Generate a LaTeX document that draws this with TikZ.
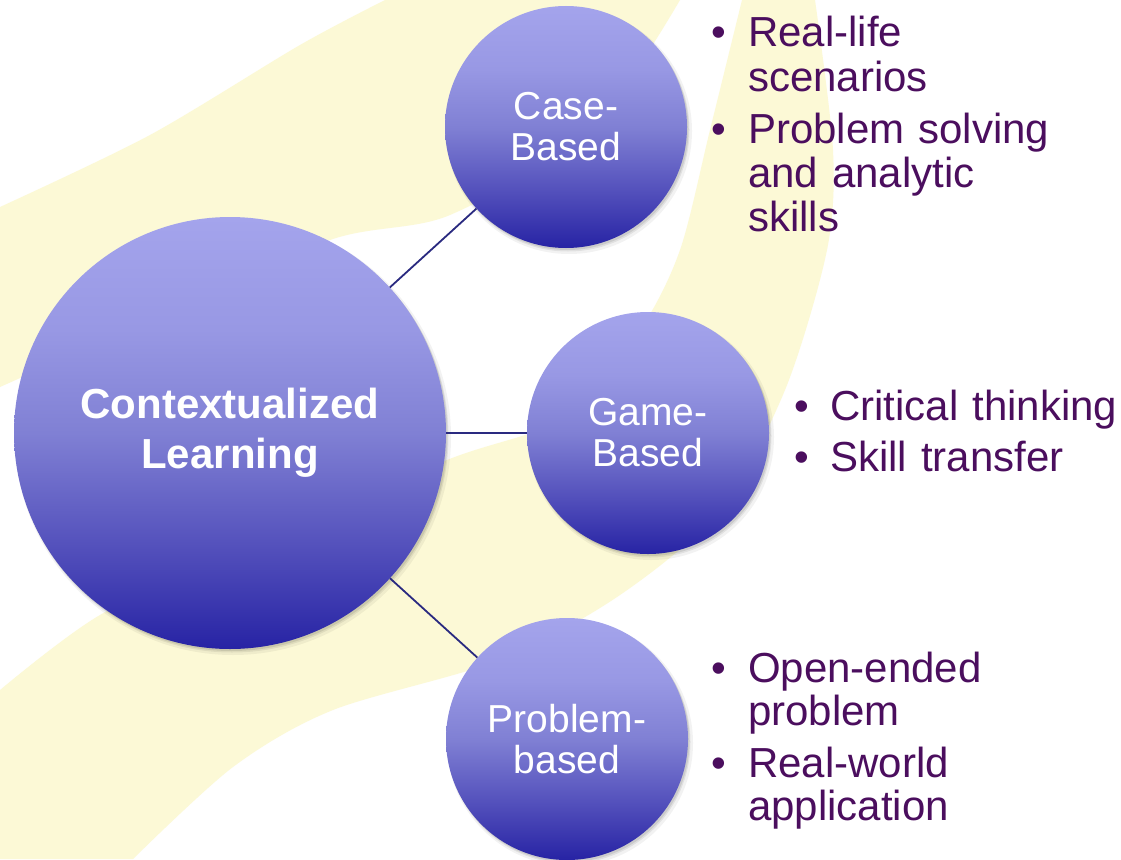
\documentclass[tikz,border=0pt]{standalone}
\usepackage{fontspec}
\setmainfont{Liberation Sans}
\definecolor{bgyellow}{HTML}{FCF9D6}
\definecolor{balltop}{HTML}{A4A4EC}
\definecolor{ballup}{HTML}{9898E4}
\definecolor{ballmid}{HTML}{8080D4}
\definecolor{balllow}{HTML}{5451BC}
\definecolor{ballbot}{HTML}{2723A4}
\definecolor{linkcol}{HTML}{2A2A80}
\definecolor{bulletcol}{HTML}{4B0E5E}
\pgfdeclareverticalshading{ballshade}{100bp}{color(0bp)=(ballbot); color(25bp)=(ballbot); color(37bp)=(balllow); color(50bp)=(ballmid); color(62bp)=(ballup); color(75bp)=(balltop); color(100bp)=(balltop)}
\tikzset{
  ball/.style={circle, inner sep=0pt, shade, shading=ballshade, text=white, align=center, font=\fontsize{39}{41}\selectfont},
  bigball/.style={ball, minimum size=432pt, font=\bfseries\fontsize{42}{50}\selectfont},
  smallball/.style={ball, minimum size=242pt},
  link/.style={draw=linkcol, line width=1.8pt},
  bdot/.style={anchor=base, inner sep=0pt, text=bulletcol, font=\fontsize{42}{44}\selectfont},
  bitem/.style={anchor=base west, inner sep=0pt, text=bulletcol, text width=360pt, align=left, font=\fontsize{42}{44}\selectfont},
  bitemp/.style={bitem, font=\fontsize{42}{43}\selectfont},
}
\newcommand{\ballshadow}[3]{%
  \fill[black, opacity=0.05] (#1+3,#2+4) circle (#3+2);
  \fill[black, opacity=0.07] (#1+2,#2+3) circle (#3+0.5);
  \fill[black, opacity=0.09] (#1+1.5,#2+2) circle (#3);
}
\begin{document}
\begin{tikzpicture}[x=1pt,y=-1pt]
\useasboundingbox (0,0) rectangle (1121,859);
\fill[white] (0,0) rectangle (1121,859);
% background swooshes
\fill[bgyellow] plot[smooth] coordinates {(0,207) (150,135) (300,45) (385,0)}
  -- (680,0) -- plot[smooth] coordinates {(680,0) (590,130) (450,215) (330,240) (150,320) (0,387)} -- cycle;
\fill[bgyellow] plot[smooth] coordinates {(742,0) (710,130) (680,250) (640,330) (567,417) (447,460) (250,545) (100,615) (0,690)}
  -- (0,859) -- plot[smooth] coordinates {(133,859) (233,767) (333,710) (500,660) (620,595) (720,510) (785,390) (827,250) (833,150) (815,0)} -- cycle;
% shadows
\ballshadow{230}{433}{216}
\ballshadow{566}{127}{121}
\ballshadow{648}{433}{121}
\ballshadow{567}{739}{121}
% circles
\node[bigball] (ctx) at (230,433) {Contextualized\\Learning};
\node[smallball] (case) at (566,127) {Case-\\Based};
\node[smallball] (game) at (648,433) {Game-\\Based};
\node[smallball] (prob) at (567,739) {Problem-\\based};
% connectors
\draw[link] (ctx) -- (case);
\draw[link] (ctx) -- (game);
\draw[link] (ctx) -- (prob);
% bullets: case-based
\node[bdot] (c1d) at (719,47) {•};
\node[bitem] (c1) at (748,47) {Real-life\\scenarios};
\node[bdot] (c2d) at (719,143) {•};
\node[bitem] (c2) at (748,143) {Problem solving\\and analytic\\skills};
% bullets: game-based
\node[bdot] (g1d) at (802,420) {•};
\node[bitem] (g1) at (830,420) {Critical thinking};
\node[bdot] (g2d) at (802,471) {•};
\node[bitem] (g2) at (830,471) {Skill transfer};
% bullets: problem-based
\node[bdot] (p1d) at (719,682) {•};
\node[bitemp] (p1) at (748,682) {Open-ended\\problem};
\node[bdot] (p2d) at (719,777) {•};
\node[bitemp] (p2) at (748,777) {Real-world\\application};
\end{tikzpicture}
\end{document}
